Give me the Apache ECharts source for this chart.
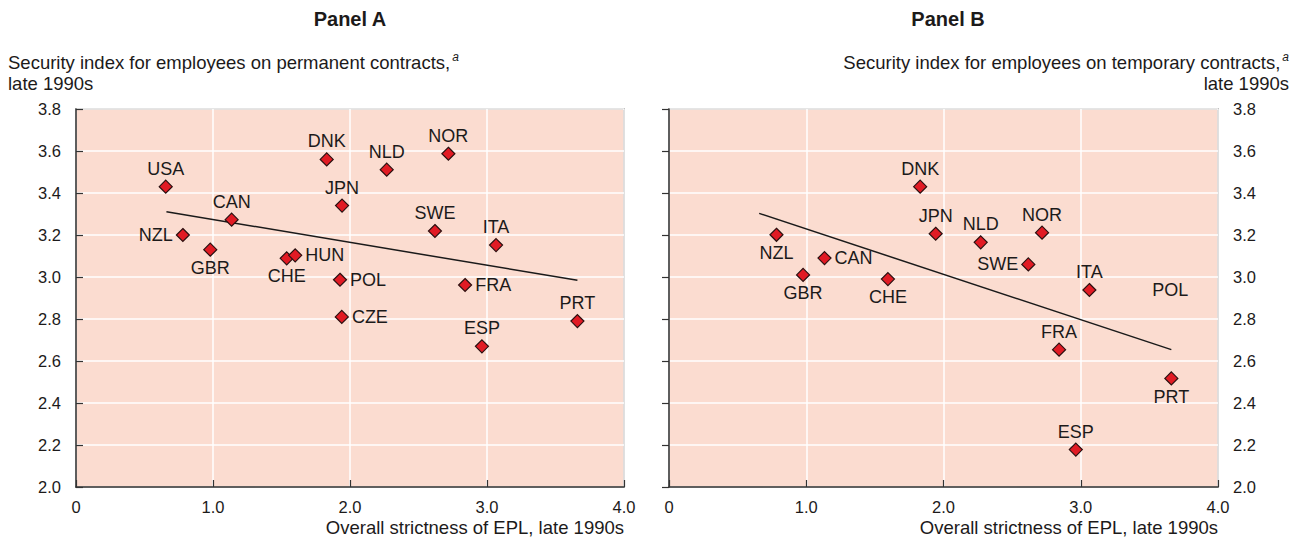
<!DOCTYPE html>
<html><head><meta charset="utf-8">
<script src="https://cdn.jsdelivr.net/npm/echarts@6/dist/echarts.min.js"></script>
<style>html,body{margin:0;padding:0;background:#fff}#c{width:1302px;height:539px}</style>
</head><body><div id="c"></div>
<script>
// ---- Data ----
const countriesA = ['USA','NZL','GBR','CAN','CHE','HUN','DNK','JPN','NLD','NOR','SWE','ITA','POL','FRA','CZE','ESP','PRT'];
const eplA       = [0.655,0.78,0.98,1.136,1.538,1.60,1.83,1.942,2.268,2.718,2.62,3.066,1.927,2.84,1.94,2.963,3.66];
const securityA  = [3.43,3.20,3.13,3.273,3.089,3.103,3.56,3.34,3.511,3.587,3.219,3.152,2.987,2.962,2.81,2.67,2.79];
const fitAx = [0.66, 3.66];
const fitAy = [3.311, 2.984];

const countriesB = ['NZL','CAN','GBR','CHE','DNK','JPN','NLD','NOR','SWE','ITA','FRA','PRT','ESP'];
const eplB       = [0.783,1.133,0.977,1.595,1.83,1.943,2.271,2.718,2.618,3.063,2.842,3.66,2.964];
const securityB  = [3.201,3.09,3.01,2.99,3.43,3.206,3.165,3.211,3.06,2.938,2.654,2.517,2.178];
const fitBx = [0.657, 3.66];
const fitBy = [3.303, 2.654];
// label shown in panel B without a marker
const labelOnlyB  = ['POL'];
const labelOnlyBx = [3.652];
const labelOnlyBy = [2.936];

const xTickLabels = ['0','1.0','2.0','3.0','4.0'];
const yTickLabels = ['2.0','2.2','2.4','2.6','2.8','3.0','3.2','3.4','3.6','3.8'];

const panelTitles = ['Panel A','Panel B'];
const yNameA = ['Security index for employees on permanent contracts,', 'late 1990s'];
const yNameB = ['Security index for employees on temporary contracts,', 'late 1990s'];
const xName = 'Overall strictness of EPL, late 1990s';

// ---- Styles ----
const labelPosA = {USA:'top',NZL:'left',GBR:'bottom',CAN:'top',CHE:'bottom',HUN:'right',DNK:'top',JPN:'top',NLD:'top',NOR:'top',SWE:'top',ITA:'top',POL:'right',FRA:'right',CZE:'right',ESP:'top',PRT:'top'};
const labelPosB = {NZL:'bottom',CAN:'right',GBR:'bottom',CHE:'bottom',DNK:'top',JPN:'top',NLD:'top',NOR:'top',SWE:'left',ITA:'top',FRA:'top',PRT:'bottom',ESP:'top'};

const FONT = '"Liberation Sans", Arial, Helvetica, sans-serif';
const TXT = '#1c1a1a';
const PLOT_BG = '#fbdcd0';
const AXIS = '#333';

function pts(names, xs, ys, posMap) {
  return names.map((n, i) => ({
    value: [xs[i], ys[i]], name: n,
    label: { position: posMap[n], distance: (posMap[n] === 'left' || posMap[n] === 'right') ? 3 : 2 }
  }));
}
function fit(xs, ys) { return xs.map((x, i) => [x, ys[i]]); }

function xAxisCfg(gi) {
  return {
    gridIndex: gi, type: 'value', min: 0, max: 4, interval: 1,
    axisLine: { show: true, lineStyle: { color: AXIS, width: 1.5 } },
    axisTick: { show: true, inside: true, length: 7, lineStyle: { color: AXIS, width: 1.2 } },
    axisLabel: { margin: 11, color: TXT, fontSize: 16.5, fontFamily: FONT,
      formatter: v => xTickLabels[Math.round(v)] },
    splitLine: { show: true, lineStyle: { color: '#fff', width: 1.5 } }
  };
}
function yAxisCfg(gi, pos) {
  return {
    gridIndex: gi, type: 'value', min: 2.0, max: 3.8, interval: 0.2, position: pos,
    axisLine: { show: true, lineStyle: { color: AXIS, width: 1.5 } },
    axisTick: { show: true, inside: true, length: 7, lineStyle: { color: AXIS, width: 1.2 } },
    axisLabel: { margin: 15, color: TXT, fontSize: 16.5, fontFamily: FONT,
      formatter: v => yTickLabels[Math.round((v - 2.0) / 0.2)] },
    splitLine: { show: true, lineStyle: { color: '#fff', width: 1.5 } }
  };
}
const scatterStyle = {
  type: 'scatter', symbol: 'diamond', symbolSize: 13,
  itemStyle: { color: '#e11b24', borderColor: '#2a1010', borderWidth: 1.2, opacity: 1 },
  label: { show: true, formatter: '{b}', color: TXT, fontSize: 18, fontFamily: FONT },
  emphasis: { disabled: true }, z: 5
};
const lineStyle = {
  type: 'line', symbol: 'none', lineStyle: { color: '#1a1a1a', width: 1.5 },
  emphasis: { disabled: true }, silent: true, z: 4
};

function supLine(x, y, main, align) {
  return { type: 'text', x: x, y: y, silent: true,
    style: { text: '{n|' + main + '}{s|a}', align: align, verticalAlign: 'middle',
      rich: { n: { fontSize: 18.5, fontFamily: FONT, fill: TXT, color: TXT, lineHeight: 22 },
              s: { fontSize: 12, fontFamily: FONT, fontStyle: 'italic', fill: TXT, color: TXT, verticalAlign: 'top', lineHeight: 22, padding: [0, 0, 0, 2] } } } };
}
function txt(x, y, s, align, size, weight) {
  return { type: 'text', x: x, y: y, silent: true,
    style: { text: s, align: align, verticalAlign: 'middle', fontSize: size, fontWeight: weight || 'normal', fontFamily: FONT, fill: TXT } };
}

const option = {
  animation: false,
  backgroundColor: '#fff',
  grid: [
    { left: 76, top: 109, width: 548, height: 378, show: true, backgroundColor: PLOT_BG, borderColor: AXIS, borderWidth: 1.2 },
    { left: 669, top: 109, width: 549, height: 378, show: true, backgroundColor: PLOT_BG, borderColor: AXIS, borderWidth: 1.2 }
  ],
  xAxis: [xAxisCfg(0), xAxisCfg(1)],
  yAxis: [yAxisCfg(0, 'left'), yAxisCfg(1, 'right')],
  series: [
    Object.assign({}, lineStyle, { xAxisIndex: 0, yAxisIndex: 0, data: fit(fitAx, fitAy) }),
    Object.assign({}, scatterStyle, { xAxisIndex: 0, yAxisIndex: 0, data: pts(countriesA, eplA, securityA, labelPosA) }),
    Object.assign({}, lineStyle, { xAxisIndex: 1, yAxisIndex: 1, data: fit(fitBx, fitBy) }),
    Object.assign({}, scatterStyle, { xAxisIndex: 1, yAxisIndex: 1, data: pts(countriesB, eplB, securityB, labelPosB) }),
    Object.assign({}, scatterStyle, { xAxisIndex: 1, yAxisIndex: 1, symbolSize: 0,
      label: Object.assign({}, scatterStyle.label, { position: 'inside' }),
      data: labelOnlyB.map((n, i) => ({ name: n, value: [labelOnlyBx[i], labelOnlyBy[i]] })) })
  ],
  graphic: [
    txt(350, 19, panelTitles[0], 'center', 20, 'bold'),
    txt(948, 19, panelTitles[1], 'center', 20, 'bold'),
    supLine(8, 62, yNameA[0], 'left'),
    txt(8, 83, yNameA[1], 'left', 18.5),
    supLine(1289, 62, yNameB[0], 'right'),
    txt(1289, 83, yNameB[1], 'right', 18.5),
    txt(624, 527, xName, 'right', 18.5),
    txt(1218, 527, xName, 'right', 18.5)
  ]
};
const chart = echarts.init(document.getElementById('c'), null, { renderer: 'svg' });
chart.setOption(option);
</script>
</body></html>
